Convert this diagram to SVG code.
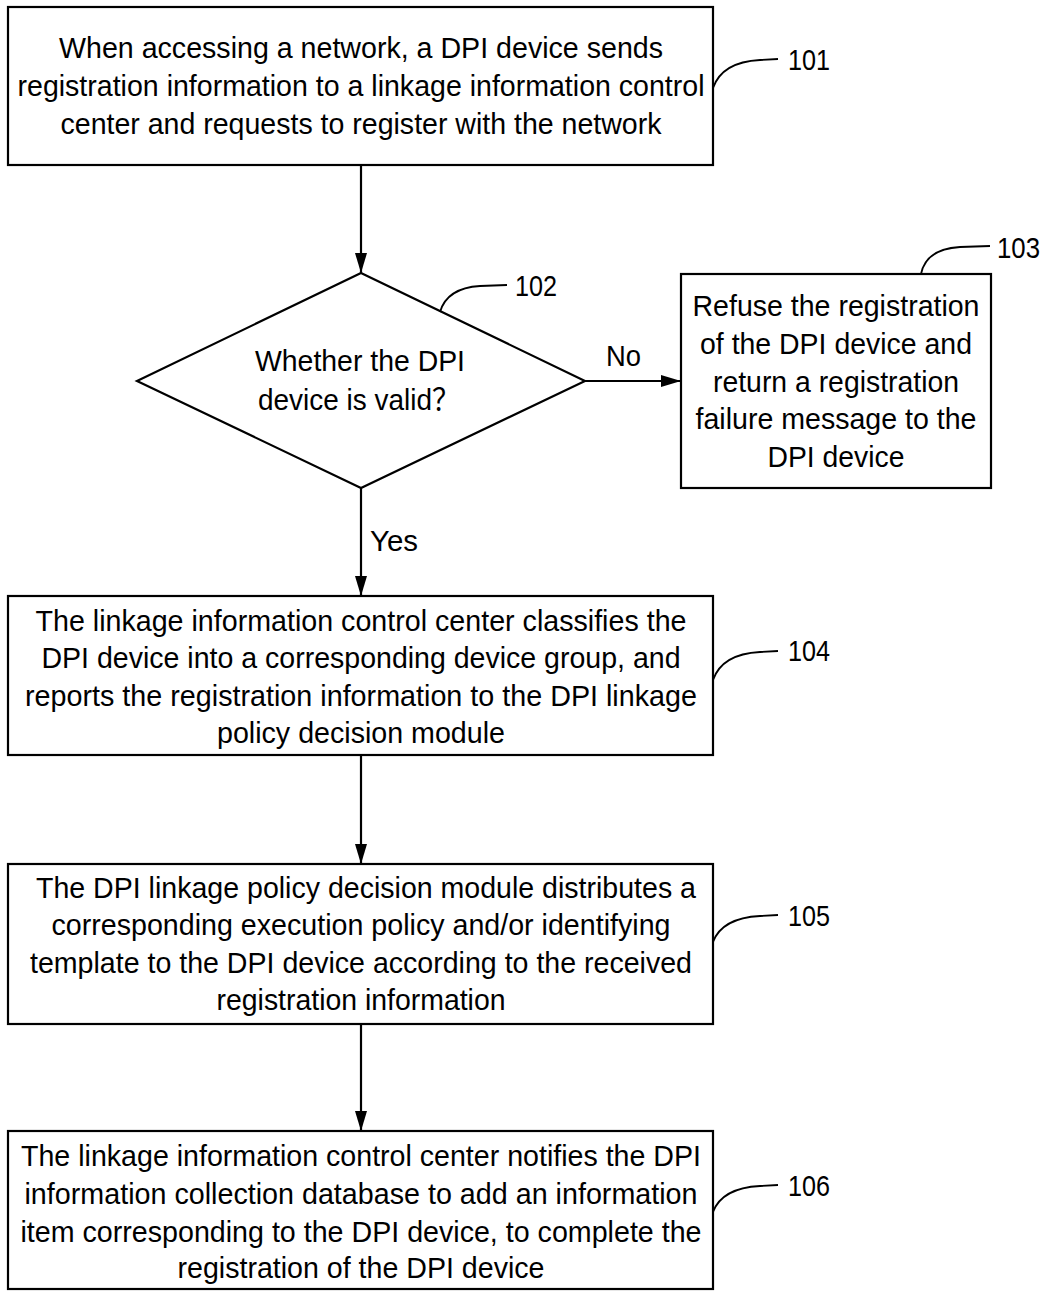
<svg xmlns="http://www.w3.org/2000/svg" width="1045" height="1292" viewBox="0 0 1045 1292">
<style>
.box{fill:#fff;stroke:#000;stroke-width:2.2}
.t{font-family:"Liberation Sans","Noto Sans CJK SC",sans-serif;font-size:30px;fill:#000;text-anchor:middle}
.lbl{font-family:"Liberation Sans",sans-serif;font-size:30px;fill:#000}
.conn{stroke:#000;stroke-width:2.2;fill:none}
.lead{stroke:#000;stroke-width:1.8;fill:none}
</style>
<defs>
<marker id="ah" viewBox="0 0 20 12" refX="20" refY="6" markerWidth="20" markerHeight="12" markerUnits="userSpaceOnUse" orient="auto">
<path d="M0,0 L20,6 L0,12 Z" fill="#000"/>
</marker>
</defs>
<rect width="1045" height="1292" fill="#fff"/>
<g id="connectors">
<line class="conn" x1="361" y1="165" x2="361" y2="273" marker-end="url(#ah)"/>
<line class="conn" x1="585" y1="381" x2="681" y2="381" marker-end="url(#ah)"/>
<line class="conn" x1="361" y1="488" x2="361" y2="596" marker-end="url(#ah)"/>
<line class="conn" x1="361" y1="755" x2="361" y2="864" marker-end="url(#ah)"/>
<line class="conn" x1="361" y1="1024" x2="361" y2="1131" marker-end="url(#ah)"/>
<text class="lbl" x="606" y="366" textLength="35" lengthAdjust="spacingAndGlyphs">No</text>
<text class="lbl" x="370" y="551" textLength="48" lengthAdjust="spacingAndGlyphs">Yes</text>
</g>
<g id="n101">
<rect class="box" x="8" y="7" width="705" height="158"/>
<text class="t" x="361" y="58" textLength="604" lengthAdjust="spacingAndGlyphs">When accessing a network, a DPI device sends</text>
<text class="t" x="361" y="96" textLength="687" lengthAdjust="spacingAndGlyphs">registration information to a linkage information control</text>
<text class="t" x="361" y="134" textLength="601" lengthAdjust="spacingAndGlyphs">center and requests to register with the network</text>
<path class="lead" d="M713,88 Q722,62 760,60 L778,59"/>
<text class="lbl" x="788" y="70" textLength="42" lengthAdjust="spacingAndGlyphs">101</text>
</g>
<g id="n102">
<polygon class="box" points="361,273 585,381 361,488 137,381"/>
<text class="t" x="360" y="371" textLength="210" lengthAdjust="spacingAndGlyphs">Whether the DPI</text>
<text class="t" x="359" y="410" textLength="202" lengthAdjust="spacingAndGlyphs">device is valid？</text>
<path class="lead" d="M440,312 Q447,288 480,286 L507,285"/>
<text class="lbl" x="515" y="296" textLength="42" lengthAdjust="spacingAndGlyphs">102</text>
</g>
<g id="n103">
<rect class="box" x="681" y="274" width="310" height="214"/>
<text class="t" x="836" y="316" textLength="287" lengthAdjust="spacingAndGlyphs">Refuse the registration</text>
<text class="t" x="836" y="354" textLength="272" lengthAdjust="spacingAndGlyphs">of the DPI device and</text>
<text class="t" x="836" y="392" textLength="246" lengthAdjust="spacingAndGlyphs">return a registration</text>
<text class="t" x="836" y="429" textLength="281" lengthAdjust="spacingAndGlyphs">failure message to the</text>
<text class="t" x="836" y="467" textLength="137" lengthAdjust="spacingAndGlyphs">DPI device</text>
<path class="lead" d="M921,274 Q926,249 960,247 L990,246"/>
<text class="lbl" x="997" y="258" textLength="43" lengthAdjust="spacingAndGlyphs">103</text>
</g>
<g id="n104">
<rect class="box" x="8" y="596" width="705" height="159"/>
<text class="t" x="361" y="631" textLength="651" lengthAdjust="spacingAndGlyphs">The linkage information control center classifies the</text>
<text class="t" x="361" y="668" textLength="639" lengthAdjust="spacingAndGlyphs">DPI device into a corresponding device group, and</text>
<text class="t" x="361" y="706" textLength="672" lengthAdjust="spacingAndGlyphs">reports the registration information to the DPI linkage</text>
<text class="t" x="361" y="743" textLength="288" lengthAdjust="spacingAndGlyphs">policy decision module</text>
<path class="lead" d="M713,680 Q722,654 760,652 L778,651"/>
<text class="lbl" x="788" y="661" textLength="42" lengthAdjust="spacingAndGlyphs">104</text>
</g>
<g id="n105">
<rect class="box" x="8" y="864" width="705" height="160"/>
<text class="t" x="366" y="898" textLength="660" lengthAdjust="spacingAndGlyphs">The DPI linkage policy decision module distributes a</text>
<text class="t" x="361" y="935" textLength="619" lengthAdjust="spacingAndGlyphs">corresponding execution policy and/or identifying</text>
<text class="t" x="361" y="973" textLength="662" lengthAdjust="spacingAndGlyphs">template to the DPI device according to the received</text>
<text class="t" x="361" y="1010" textLength="289" lengthAdjust="spacingAndGlyphs">registration information</text>
<path class="lead" d="M713,942 Q722,918 760,916 L778,915"/>
<text class="lbl" x="788" y="926" textLength="42" lengthAdjust="spacingAndGlyphs">105</text>
</g>
<g id="n106">
<rect class="box" x="8" y="1131" width="705" height="158"/>
<text class="t" x="361" y="1166" textLength="680" lengthAdjust="spacingAndGlyphs">The linkage information control center notifies the DPI</text>
<text class="t" x="361" y="1204" textLength="673" lengthAdjust="spacingAndGlyphs">information collection database to add an information</text>
<text class="t" x="361" y="1242" textLength="681" lengthAdjust="spacingAndGlyphs">item corresponding to the DPI device, to complete the</text>
<text class="t" x="361" y="1278" textLength="367" lengthAdjust="spacingAndGlyphs">registration of the DPI device</text>
<path class="lead" d="M713,1212 Q722,1188 760,1186 L778,1185"/>
<text class="lbl" x="788" y="1196" textLength="42" lengthAdjust="spacingAndGlyphs">106</text>
</g>
</svg>
